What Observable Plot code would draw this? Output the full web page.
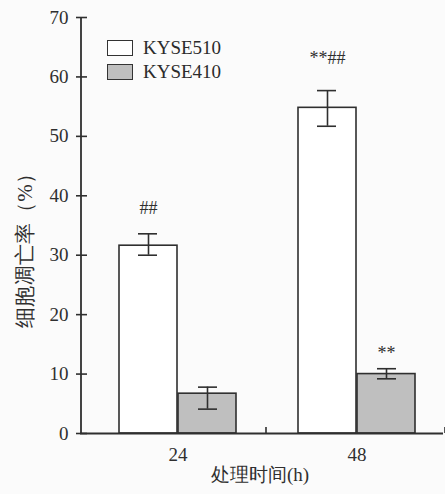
<!DOCTYPE html>
<html>
<head>
<meta charset="utf-8">
<script src="https://cdn.jsdelivr.net/npm/d3@7"></script>
<script src="https://cdn.jsdelivr.net/npm/@observablehq/plot@0.6"></script>
<style>
  html, body { margin: 0; padding: 0; background: #fbfbfb; }
  #wrap { position: relative; width: 445px; height: 494px; }
  .legend { position: absolute; left: 107px; font-family: "Liberation Serif", "Times New Roman", "DejaVu Serif", serif; font-size: 19px; color: #2b2b2b; display: flex; align-items: center; }
  .legend .sw { width: 24px; height: 14px; border: 1.6px solid #333; margin-right: 10px; }
  svg text { font-family: "Liberation Serif", "Times New Roman", "DejaVu Serif", serif; }
</style>
</head>
<body>
<div id="wrap"></div>
<script>
// ---- data ----
const times = ["24", "48"];
const seriesNames = ["KYSE510", "KYSE410"];
const kyse510 = [31.6, 54.8];
const kyse510Lo = [30.0, 51.7];
const kyse510Hi = [33.6, 57.7];
const kyse410 = [6.7, 10.0];
const kyse410Lo = [4.1, 9.2];
const kyse410Hi = [7.8, 10.9];
const marks510 = ["##", "**##"];
const marks510Y = [36.9, 62.2];
const marks410 = ["", "**"];
const marks410Y = [0, 12.6];
const yTicks = [0, 10, 20, 30, 40, 50, 60, 70];
const yLabel = "细胞凋亡率（%）";
const xLabel = "处理时间(h)";

const colors = { KYSE510: "#ffffff", KYSE410: "#bfbfbf" };
const ink = "#2f2f2f";
const serif = "'Liberation Serif', 'Times New Roman', 'DejaVu Serif', serif";
const cjk = "'Noto Sans CJK SC', sans-serif";

const d510 = times.map((t, i) => ({ t, v: kyse510[i], lo: kyse510Lo[i], hi: kyse510Hi[i], m: marks510[i], my: marks510Y[i] }));
const d410 = times.map((t, i) => ({ t, v: kyse410[i], lo: kyse410Lo[i], hi: kyse410Hi[i], m: marks410[i], my: marks410Y[i] }));

const W = 445, H = 494, mL = 80, mR = 2, mT = 17, mB = 61;
const half = 59; // half of group band width (px)

const chart = Plot.plot({
  width: W,
  height: H,
  marginLeft: mL,
  marginRight: mR,
  marginTop: mT,
  marginBottom: mB,
  style: { background: "transparent", fontFamily: serif, fontSize: "19px", color: ink },
  x: { domain: times, range: [118, 416], paddingInner: 0.344, paddingOuter: 0, axis: null },
  y: { domain: [0, 70], axis: null },
  marks: [
    // bars
    Plot.barY(d510, { x: "t", y: "v", fill: colors.KYSE510, stroke: ink, strokeWidth: 1.6, insetRight: half }),
    Plot.barY(d410, { x: "t", y: "v", fill: colors.KYSE410, stroke: ink, strokeWidth: 1.6, insetLeft: half }),
    // error bars
    Plot.ruleX(d510, { x: "t", y1: "lo", y2: "hi", dx: -half / 2, stroke: ink, strokeWidth: 1.6 }),
    Plot.ruleX(d410, { x: "t", y1: "lo", y2: "hi", dx: half / 2, stroke: ink, strokeWidth: 1.6 }),
    Plot.tickY(d510, { x: "t", y: "lo", insetLeft: 19, insetRight: 79, stroke: ink, strokeWidth: 1.6 }),
    Plot.tickY(d510, { x: "t", y: "hi", insetLeft: 19, insetRight: 79, stroke: ink, strokeWidth: 1.6 }),
    Plot.tickY(d410, { x: "t", y: "lo", insetLeft: 79, insetRight: 19, stroke: ink, strokeWidth: 1.6 }),
    Plot.tickY(d410, { x: "t", y: "hi", insetLeft: 79, insetRight: 19, stroke: ink, strokeWidth: 1.6 }),
    // significance marks
    Plot.text(d510, { x: "t", y: "my", text: "m", dx: -half / 2, fontSize: 18, fontFamily: serif, fill: ink, lineAnchor: "bottom" }),
    Plot.text(d410.filter(d => d.m), { x: "t", y: "my", text: "m", dx: half / 2, fontSize: 18, fontFamily: serif, fill: ink, lineAnchor: "bottom" }),
    // axes lines
    Plot.ruleX([times[0]], { x: d => d, dx: mL - 177, stroke: ink, strokeWidth: 1.8 }),
    Plot.ruleY([0], { stroke: ink, strokeWidth: 1.8 }),
    Plot.axisY(yTicks, { ticks: yTicks, tickSize: 4, tickPadding: 8, stroke: ink, strokeWidth: 1.6, fill: ink, label: null, fontSize: 19, fontFamily: serif }),
    Plot.tickY(yTicks, { y: d => d, insetRight: W - mL - mR - 7, stroke: ink, strokeWidth: 1.6 }),
    Plot.axisX(times, { tickSize: 0, tickPadding: 14, label: null, fill: ink, fontSize: 19, fontFamily: serif }),
    // group separators on x axis
    Plot.ruleX(times, { x: d => d, dx: 88, y1: 0, y2: 1, stroke: ink, strokeWidth: 1.6 }),
    // axis titles
    Plot.text([xLabel], { frameAnchor: "bottom", textAnchor: "middle", text: d => d, dx: -2, dy: 47, fontFamily: cjk, fontSize: 19, fill: ink }),
    Plot.text([yLabel], { frameAnchor: "left", textAnchor: "middle", text: d => d, rotate: -90, dx: -55, dy: 20, fontFamily: cjk, fontSize: 21, fill: ink })
  ]
});

const wrap = document.getElementById("wrap");
wrap.appendChild(chart);

// legend (HTML overlay inside the plot area)
seriesNames.forEach((name, i) => {
  const row = document.createElement("div");
  row.className = "legend";
  row.style.top = (37 + i * 24) + "px";
  const sw = document.createElement("div");
  sw.className = "sw";
  sw.style.background = colors[name];
  const lab = document.createElement("span");
  lab.textContent = name;
  row.appendChild(sw);
  row.appendChild(lab);
  wrap.appendChild(row);
});
</script>
</body>
</html>
